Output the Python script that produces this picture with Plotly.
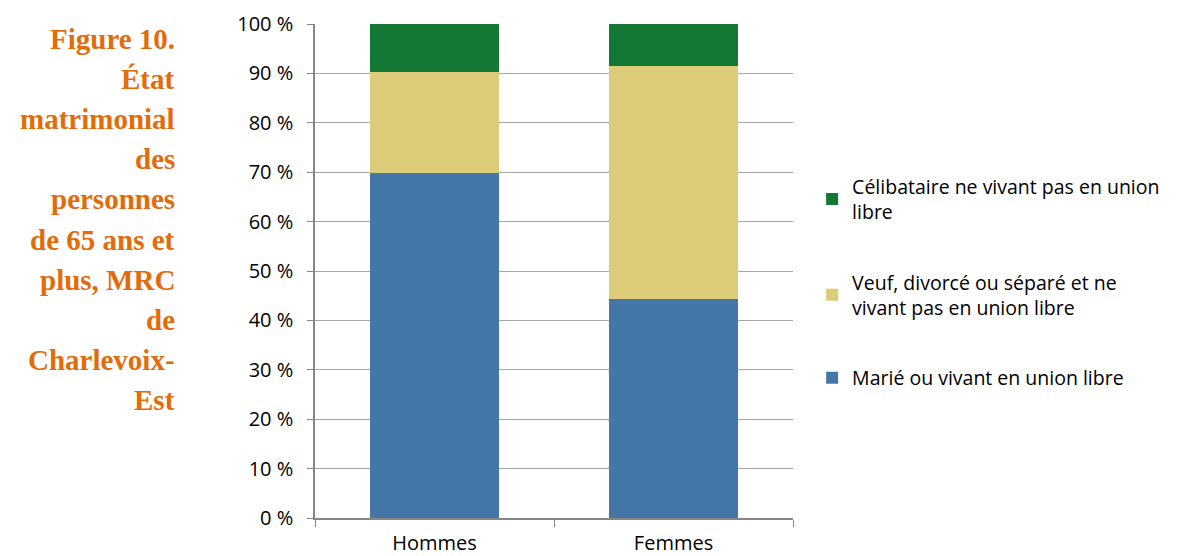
import plotly.graph_objects as go

categories = ["Hommes", "Femmes"]
series_names = [
    "Marié ou vivant en union libre",
    "Veuf, divorcé ou séparé et ne<br>vivant pas en union libre",
    "Célibataire ne vivant pas en union<br>libre",
]
marie = [69.9, 44.3]
veuf = [20.4, 47.1]
celib = [9.7, 8.6]
series_values = [marie, veuf, celib]
colors = ["#4477A8", "#DCCB78", "#137833"]
legend_ranks = [3, 2, 1]

title_lines = ["Figure 10.", "État", "matrimonial", "des", "personnes",
               "de 65 ans et", "plus, MRC", "de", "Charlevoix-", "Est"]

tick_vals = list(range(0, 101, 10))
tick_text = [f"{v} %" for v in tick_vals]

FONT = "Open Sans"

fig = go.Figure()
for name, vals, col, rk in zip(series_names, series_values, colors, legend_ranks):
    fig.add_trace(go.Bar(
        x=categories, y=vals, name=name, marker_color=col,
        marker_line_width=0, legendgroup=name, legendrank=rk,
        hoverinfo="skip",
    ))

L, R, T, B = 315, 384, 24, 38
annotations = []
for i, line in enumerate(title_lines):
    annotations.append(dict(
        text=line, xref="paper", yref="paper", x=0, y=1,
        xanchor="right", yanchor="middle", showarrow=False,
        xshift=177 - L, yshift=-(39 + 40.1 * i - T),
        font=dict(family="Liberation Serif", size=29, color="#E36C0A", weight="bold"),
    ))

fig.update_layout(
    width=1177, height=556,
    margin=dict(l=L, r=R, t=T, b=B, pad=0, autoexpand=False),
    barmode="stack", bargap=0.457,
    plot_bgcolor="white", paper_bgcolor="white",
    font=dict(family=FONT, size=20, color="#000000"),
    showlegend=True,
    legend=dict(
        x=1.04, y=0.71, xanchor="left", yanchor="top",
        traceorder="grouped", tracegroupgap=42,
        font=dict(family=FONT, size=19.5),
        itemwidth=30,
    ),
    annotations=annotations,
)
fig.update_xaxes(
    showline=True, linecolor="#868686", linewidth=1.5,
    ticks="outside", tickson="boundaries", ticklen=7, tickcolor="#868686",
    tickfont=dict(family=FONT, size=20),
    ticklabelstandoff=6, automargin=False,
    showgrid=False,
)
fig.update_yaxes(
    range=[0, 100], tickvals=tick_vals, ticktext=tick_text,
    showline=True, linecolor="#868686", linewidth=1.5,
    ticks="outside", ticklen=6, tickcolor="#868686",
    showgrid=True, gridcolor="#A6A6A6", gridwidth=1,
    tickfont=dict(family=FONT, size=20),
    ticklabelstandoff=10, automargin=False,
    zeroline=False,
)
fig.write_html("out.html")
